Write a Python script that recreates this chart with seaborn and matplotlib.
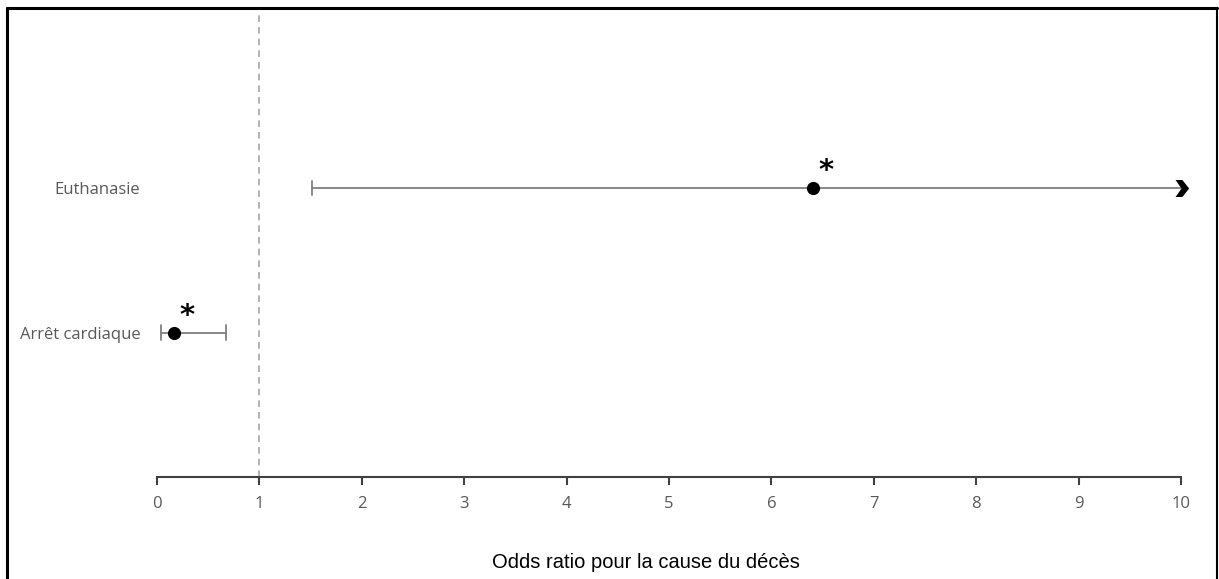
import matplotlib
matplotlib.use("Agg")
import matplotlib.pyplot as plt
import seaborn as sns
import pandas as pd
import numpy as np
from matplotlib.path import Path

# Data
causes = ["Arrêt cardiaque", "Euthanasie"]
odds_ratio = [0.17, 6.41]
ci_low = [0.04, 1.51]
ci_high = [0.67, 10.0]
truncated = [False, True]
significant = [True, True]
x_ticks = [0, 1, 2, 3, 4, 5, 6, 7, 8, 9, 10]
x_label = "Odds ratio pour la cause du décès"

df = pd.DataFrame({"cause": causes, "or": odds_ratio, "lo": ci_low,
                   "hi": ci_high, "trunc": truncated, "sig": significant})
df["pos"] = np.arange(1, len(df) + 1)

sns.set_theme(style="white")
plt.rcParams["font.family"] = ["Open Sans", "DejaVu Sans"]

fig = plt.figure(figsize=(12.19, 5.79), dpi=100)
ax = fig.add_axes([157/1219, 102/579, (1181-157)/1219, 462/579])

ci_color = "#7f7f7f"
# reference line at OR = 1
ax.axvline(1, color="#a6a6a6", linestyle=(0, (4, 3)), linewidth=1.2, zorder=1)

# confidence intervals
for _, r in df.iterrows():
    ax.plot([r["lo"], r["hi"]], [r["pos"], r["pos"]], color=ci_color, lw=1.3, zorder=2)
    ax.plot([r["lo"], r["lo"]], [r["pos"] - 0.05, r["pos"] + 0.05], color=ci_color, lw=1.3, zorder=2)
    if not r["trunc"]:
        ax.plot([r["hi"], r["hi"]], [r["pos"] - 0.05, r["pos"] + 0.05], color=ci_color, lw=1.3, zorder=2)

# chevron marker for truncated upper bounds
chev = Path([(-0.7, 1.0), (0.1, 1.0), (0.9, 0.0), (0.1, -1.0), (-0.7, -1.0), (0.0, 0.0), (-0.7, 1.0)],
            [Path.MOVETO, Path.LINETO, Path.LINETO, Path.LINETO, Path.LINETO, Path.LINETO, Path.CLOSEPOLY])
tr = df[df["trunc"]]
ax.scatter(tr["hi"], tr["pos"], marker=chev, s=150, color="black", zorder=4, linewidths=0,
           clip_on=False)

# point estimates
sns.scatterplot(data=df, x="or", y="pos", ax=ax, color="black", s=90,
                edgecolor="black", linewidth=0, zorder=5, legend=False, clip_on=False)

# significance stars
for _, r in df[df["sig"]].iterrows():
    ax.annotate("*", (r["or"], r["pos"]), xytext=(9, 2), textcoords="offset points",
                ha="center", va="bottom", fontsize=21, fontweight="bold", color="black",
                family=["DejaVu Sans"])

ax.set_xlim(0, 10)
ax.set_ylim(0, 3.2)
ax.set_xticks(x_ticks)
ax.set_xticklabels([str(t) for t in x_ticks])
ax.set_yticks(df["pos"])
ax.set_yticklabels(df["cause"])
ax.set_xlabel("")
ax.set_ylabel("")

for s in ["top", "right", "left"]:
    ax.spines[s].set_visible(False)
ax.spines["bottom"].set_color("#404040")
ax.spines["bottom"].set_linewidth(1.5)
ax.tick_params(axis="x", which="major", direction="out", length=6, width=1.5,
               color="#404040", labelcolor="#595959", labelsize=12, pad=8, bottom=True)
ax.tick_params(axis="y", length=0, labelcolor="#595959", labelsize=12, pad=12)

fig.text(646/1219, 1 - 563/579, x_label, ha="center", va="center", fontsize=14.5,
         color="black", family=["Liberation Sans", "DejaVu Sans"])

# outer frame (left, top, right)
fig.add_artist(plt.Line2D([7/1219, 7/1219], [0, 1 - 8/579], transform=fig.transFigure,
                          color="black", lw=2.2))
fig.add_artist(plt.Line2D([7/1219, 1217/1219], [1 - 8/579, 1 - 8/579], transform=fig.transFigure,
                          color="black", lw=2.2))
fig.add_artist(plt.Line2D([1217/1219, 1217/1219], [0, 1 - 8/579], transform=fig.transFigure,
                          color="black", lw=1.5))

fig.savefig("out.png", dpi=100, facecolor="white")
